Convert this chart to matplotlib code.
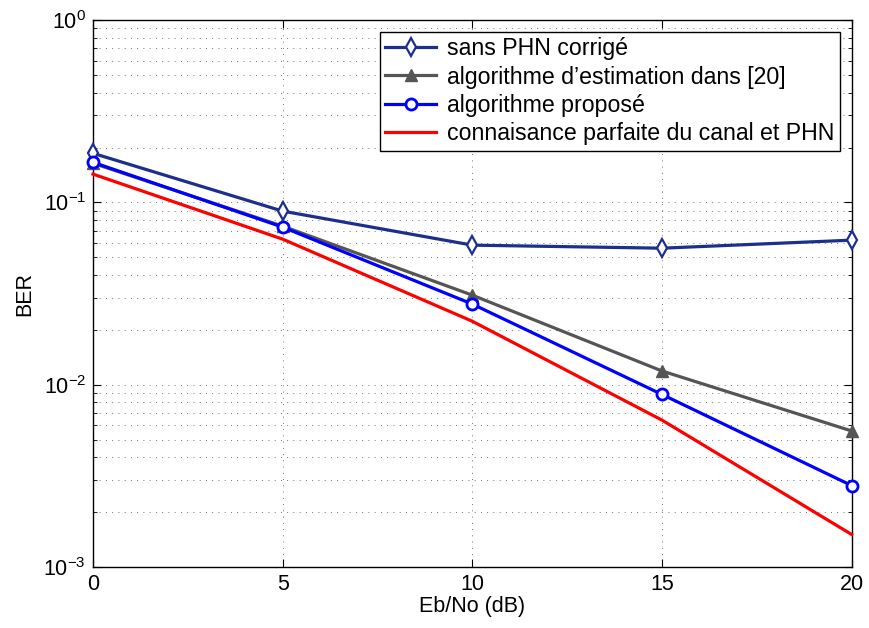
import matplotlib
matplotlib.use("Agg")
import matplotlib.pyplot as plt
from matplotlib.ticker import LogLocator, NullFormatter, FixedLocator

plt.rcParams['font.family'] = ['Liberation Sans', 'DejaVu Sans']

ebno = [0, 5, 10, 15, 20]
ber_uncorrected = [0.186, 0.0896, 0.0583, 0.0561, 0.0621]
ber_ref20 = [0.164, 0.0741, 0.0310, 0.0119, 0.00558]
ber_proposed = [0.166, 0.0732, 0.0277, 0.00885, 0.00280]
ber_perfect = [0.143, 0.0629, 0.0223, 0.0064, 0.00151]

labels = ["sans PHN corrigé",
          "algorithme d\u2019estimation dans [20]",
          "algorithme proposé",
          "connaisance parfaite du canal et PHN"]

fig = plt.figure(figsize=(8.69, 6.28), dpi=100)
ax = fig.add_axes([0.107, 0.097, 0.873, 0.871])

lw = 2.3
ax.semilogy(ebno, ber_uncorrected, color='#1c2f8c', lw=lw, marker='d', ms=9,
            mfc='white', mec='#1c2f8c', mew=1.6, label=labels[0], clip_on=False, zorder=3)
ax.semilogy(ebno, ber_ref20, color='#555555', lw=lw, marker='^', ms=9,
            mfc='#555555', mec='#555555', label=labels[1], clip_on=False, zorder=3)
ax.semilogy(ebno, ber_proposed, color='#0000ff', lw=lw, marker='o', ms=8,
            mfc='white', mec='#0000ff', mew=2, label=labels[2], clip_on=False, zorder=3)
ax.semilogy(ebno, ber_perfect, color='#ff0000', lw=lw, label=labels[3],
            clip_on=False, zorder=3)

ax.set_xlim(0, 20)
ax.set_ylim(1e-3, 1)
ax.xaxis.set_major_locator(FixedLocator(ebno))
ax.yaxis.set_major_locator(LogLocator(base=10, numticks=10))
ax.yaxis.set_minor_locator(LogLocator(base=10, subs=range(2, 10), numticks=20))
ax.yaxis.set_minor_formatter(NullFormatter())

grid_style = dict(ls=(0, (1, 6.5)), color='#444444', lw=0.6)
ax.grid(True, which='major', **grid_style)
ax.grid(True, which='minor', axis='y', **grid_style)

ax.tick_params(which='both', direction='in', top=True, right=True, labelsize=15.5)
ax.tick_params(which='major', length=6, pad=5)
ax.tick_params(which='minor', length=3)
for s in ax.spines.values():
    s.set_linewidth(1.0)

ax.set_xlabel("Eb/No (dB)", fontsize=15.5, labelpad=1)
ax.set_ylabel("BER", fontsize=15.5, labelpad=6)

leg = ax.legend(loc='upper right', fontsize=16.7, fancybox=False, framealpha=1,
                edgecolor='black', borderpad=0.25, labelspacing=0.22,
                handlelength=2.2, handletextpad=0.45, borderaxespad=0.5)
leg.get_frame().set_linewidth(1.0)

fig.savefig("out.png", dpi=100)
